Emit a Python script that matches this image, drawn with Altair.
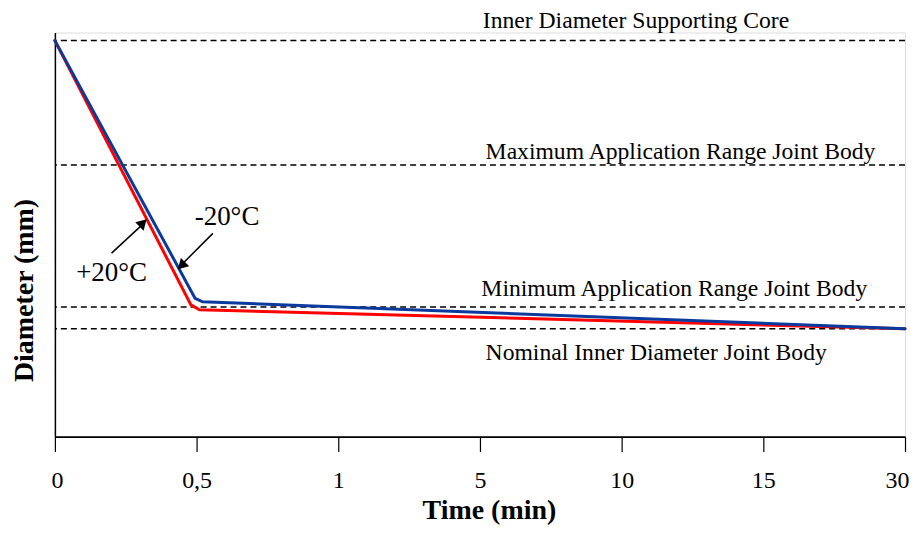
import altair as alt
import pandas as pd

# ---- data ----
tick_labels = ["0", "0,5", "1", "5", "10", "15", "30"]
tick_pos = list(range(len(tick_labels)))

# x in tick-index units (0..6), y in relative diameter units
warm_x = [0.0, 0.96, 1.02, 6.0]
warm_y = [98.0, 32.6, 31.4, 26.7]
cold_x = [0.0, 0.99, 1.04, 6.0]
cold_y = [98.0, 34.2, 33.4, 26.7]

ref_names = [
    "Inner Diameter Supporting Core",
    "Maximum Application Range Joint Body",
    "Minimum Application Range Joint Body",
    "Nominal Inner Diameter Joint Body",
]
ref_values = [98.0, 67.2, 32.1, 26.7]
ref_label_x = [3.02, 3.04, 3.01, 3.04]
ref_label_y = [101.0, 68.8, 34.8, 19.0]

ann_text = ["+20°C", "-20°C"]
ann_x = [0.40, 1.215]
ann_y = [38.5, 52.3]
arrow_x = [0.40, 1.115]
arrow_y = [45.4, 50.3]
arrow_x2 = [0.625, 0.89]
arrow_y2 = [52.7, 42.4]
head_x = [0.622, 0.893]
head_y = [52.9, 42.3]
head_angle = [45, 225]

FONT = "Liberation Serif"

series = pd.DataFrame(
    {"t": warm_x + cold_x, "d": warm_y + cold_y,
     "s": ["+20°C"] * len(warm_x) + ["-20°C"] * len(cold_x)}
)
refs = pd.DataFrame({"name": ref_names, "v": ref_values, "lx": ref_label_x, "ly": ref_label_y})
ann = pd.DataFrame({"txt": ann_text, "x": ann_x, "y": ann_y,
                    "ax": arrow_x, "ay": arrow_y, "ax2": arrow_x2, "ay2": arrow_y2,
                    "hx": head_x, "hy": head_y, "ang": head_angle})

label_expr = "[" + ",".join(f"'{l}'" for l in tick_labels) + "][datum.value]"

xscale = alt.Scale(domain=[0, 6], nice=False, zero=False)
yscale = alt.Scale(domain=[0, 100], nice=False, zero=False)

x_axis = alt.Axis(
    values=tick_pos, labelExpr=label_expr, title="Time (min)",
    grid=False, tickSize=15, tickWidth=1.2, tickColor="black",
    domainColor="black", domainWidth=2,
    labelFont=FONT, labelFontSize=24, labelColor="black",
    labelBaseline="alphabetic", labelPadding=36,
    labelFlush=True, labelFlushOffset=4, labelOverlap=False,
    titleFont=FONT, titleFontSize=28, titleFontWeight="bold", titleColor="black",
    titleBaseline="alphabetic", titleY=82, titleX=435, titleAnchor="middle",
)
y_axis = alt.Axis(
    labels=False, ticks=False, grid=False, title="Diameter (mm)",
    domainColor="black", domainWidth=1.5,
    titleFont=FONT, titleFontSize=28, titleFontWeight="bold", titleColor="black",
    titleAngle=-90, titleBaseline="alphabetic", titleX=-22, titleY=258, titleAnchor="middle",
)

base_x = alt.X("t:Q", scale=xscale, axis=x_axis)
base_y = alt.Y("d:Q", scale=yscale, axis=y_axis)

axes_layer = alt.Chart(series).mark_line(opacity=0).encode(x=base_x, y=base_y)

rules = alt.Chart(refs).mark_rule(color="black", strokeDash=[6, 4], strokeWidth=1.5).encode(
    y=alt.Y("v:Q", scale=yscale)
)
rule_labels = alt.Chart(refs).mark_text(
    font=FONT, fontSize=23.7, color="black", align="left", baseline="alphabetic"
).encode(
    x=alt.X("lx:Q", scale=xscale), y=alt.Y("ly:Q", scale=yscale), text="name:N"
)

lines = alt.Chart(series).mark_line(strokeWidth=3, strokeJoin="round", strokeCap="round").encode(
    x=alt.X("t:Q", scale=xscale),
    y=alt.Y("d:Q", scale=yscale),
    color=alt.Color("s:N", scale=alt.Scale(domain=["+20°C", "-20°C"], range=["#ff0000", "#0b3a9e"]), legend=None),
    order=alt.Order("t:Q"),
)

ann_text_layer = alt.Chart(ann).mark_text(
    font=FONT, fontSize=27, color="black", align="center", baseline="alphabetic"
).encode(x=alt.X("x:Q", scale=xscale), y=alt.Y("y:Q", scale=yscale), text="txt:N")

arrows = alt.Chart(ann).mark_rule(color="black", strokeWidth=1.5).encode(
    x=alt.X("ax:Q", scale=xscale), y=alt.Y("ay:Q", scale=yscale),
    x2="ax2:Q", y2="ay2:Q",
)
heads = alt.Chart(ann).mark_point(shape="triangle-up", filled=True, color="black", size=140, opacity=1).encode(
    x=alt.X("hx:Q", scale=xscale), y=alt.Y("hy:Q", scale=yscale), angle=alt.Angle("ang:Q", scale=None)
)

chart = alt.layer(
    axes_layer, rules, rule_labels,
    lines.transform_filter(alt.datum.s == "+20°C"),
    lines.transform_filter(alt.datum.s == "-20°C"),
    arrows, heads, ann_text_layer,
).properties(
    width=852, height=405,
    autosize=alt.AutoSizeParams(type="none"),
    padding={"left": 47, "top": 24, "right": 5, "bottom": 89},
).configure_view(stroke=None).configure(background="white")

chart.save("out.html", embed_options={"renderer": "svg", "actions": False})
